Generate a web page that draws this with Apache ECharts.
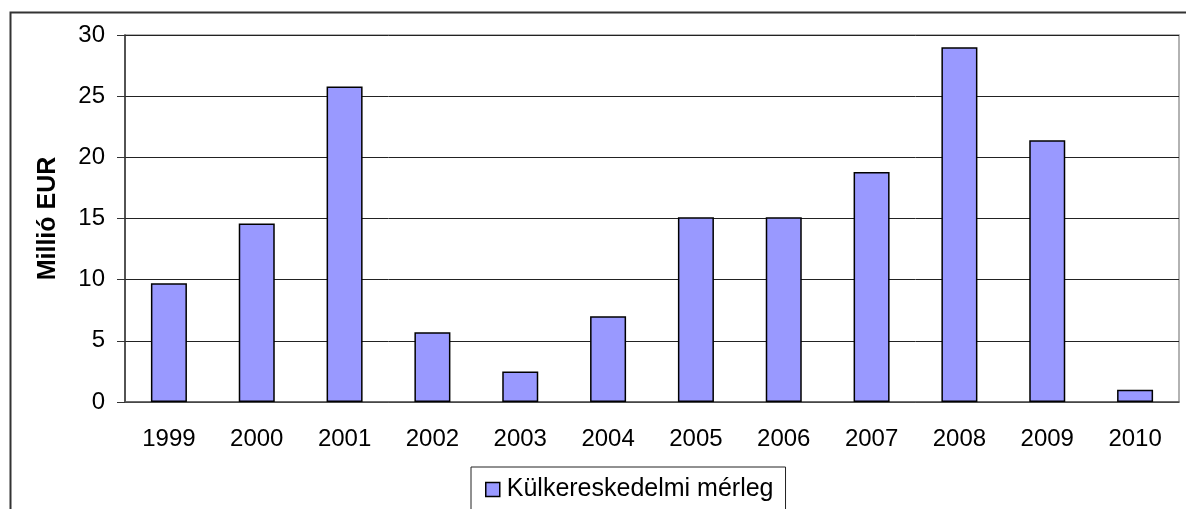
<!DOCTYPE html>
<html>
<head>
<meta charset="utf-8">
<style>
  html, body { margin: 0; padding: 0; background: #fff; }
  #chart { width: 1186px; height: 509px; }
</style>
<script src="https://cdn.jsdelivr.net/npm/echarts@6/dist/echarts.min.js"></script>
</head>
<body>
<div id="chart"></div>
<script>
const years = ['1999', '2000', '2001', '2002', '2003', '2004', '2005', '2006', '2007', '2008', '2009', '2010']
const balance = [9.7, 14.6, 25.8, 5.7, 2.5, 7.0, 15.1, 15.1, 18.8, 29.0, 21.4, 1.0]
const seriesName = 'Külkereskedelmi mérleg'
const axisName = 'Millió EUR'

const font = 'Liberation Sans, Arial, sans-serif'

const chart = echarts.init(document.getElementById('chart'), null, { renderer: 'canvas' })

chart.setOption({
  animation: false,
  backgroundColor: '#fff',
  textStyle: { fontFamily: font },
  graphic: [{
    type: 'rect',
    shape: { x: 10.5, y: 12.5, width: 1200, height: 600 },
    style: { fill: 'none', stroke: '#333', lineWidth: 2 },
    silent: true,
    z: -1
  }],
  grid: {
    left: 125, right: 7, top: 35, bottom: 107,
    show: true, borderColor: '#9a9a9a', borderWidth: 1.5, backgroundColor: 'transparent'
  },
  legend: {
    left: 471, top: 467,
    padding: [10, 12, 40, 14],
    borderColor: '#222', borderWidth: 1,
    itemWidth: 14, itemHeight: 14, itemGap: 8,
    icon: 'rect',
    textStyle: { fontSize: 25, color: '#000', fontFamily: font, padding: [0, 0, 0, 2] },
    data: [{ name: seriesName, itemStyle: { borderColor: '#000', borderWidth: 1.5 } }]
  },
  xAxis: {
    type: 'category',
    data: years,
    axisLine: { lineStyle: { color: '#555', width: 1.5 } },
    axisTick: { length: 8, lineStyle: { color: '#555' } },
    axisLabel: { fontSize: 24, color: '#000', margin: 25 }
  },
  yAxis: {
    type: 'value',
    min: 0, max: 30, interval: 5,
    name: axisName,
    nameLocation: 'middle',
    nameGap: 64,
    nameTextStyle: { fontSize: 25, fontWeight: 'bold', color: '#000' },
    axisLine: { show: true, lineStyle: { color: '#333', width: 1.5 } },
    axisTick: { show: true, length: 8, lineStyle: { color: '#333' } },
    axisLabel: { fontSize: 24, color: '#000', margin: 20 },
    splitLine: { lineStyle: { color: '#222', width: 1 } }
  },
  series: [{
    name: seriesName,
    type: 'bar',
    data: balance,
    barWidth: '41%',
    itemStyle: { color: '#9999ff', borderColor: '#000', borderWidth: 1.5 }
  }]
})

window.addEventListener('resize', () => chart.resize())
</script>
</body>
</html>
